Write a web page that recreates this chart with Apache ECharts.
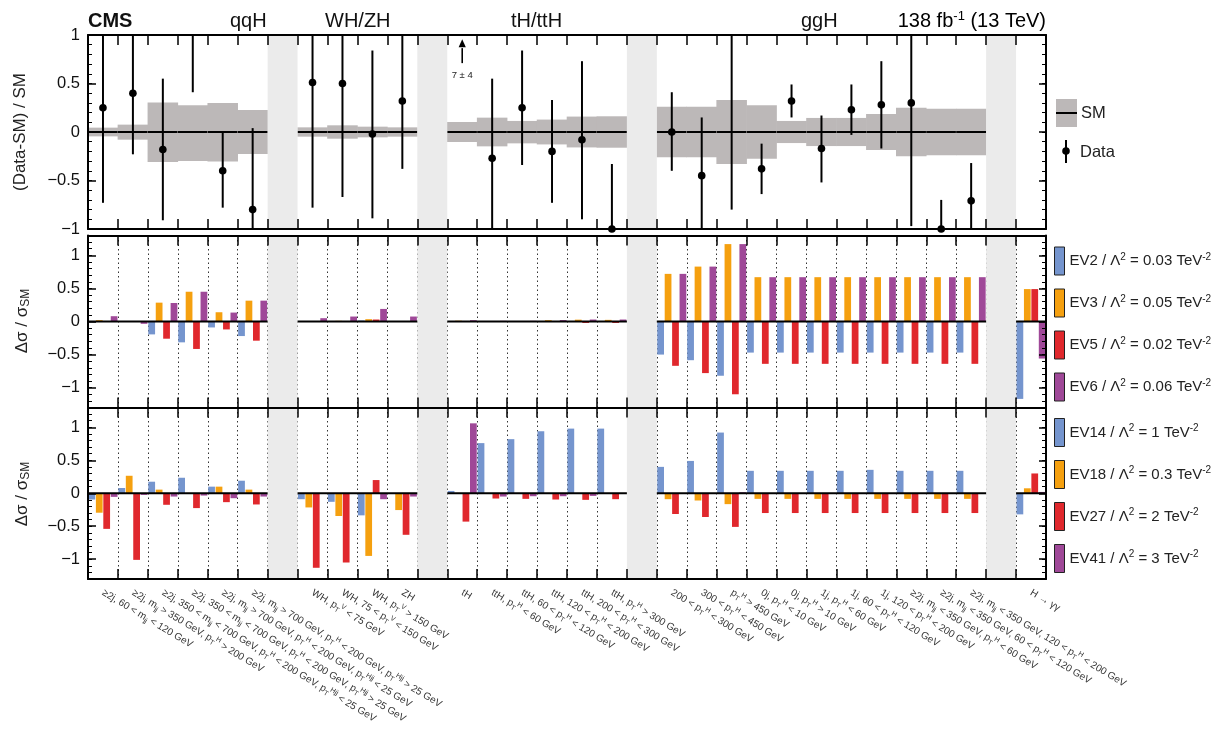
<!DOCTYPE html>
<html>
<head>
<meta charset="utf-8">
<script src="https://cdn.jsdelivr.net/npm/echarts@6/dist/echarts.min.js"></script>
<style>
  html, body { margin: 0; padding: 0; background: #fff; }
  #chart { width: 1224px; height: 737px; }
</style>
</head>
<body>
<div id="chart"></div>
<script>
// ---- Bin labels (markup: _{sub} and ^{sup}); empty strings are spacer columns ----
const categories = [
  '≥2j, 60 < m_{jj} < 120 GeV',
  '≥2j, m_{jj} > 350 GeV, p_{T}^{H} > 200 GeV',
  '≥2j, 350 < m_{jj} < 700 GeV, p_{T}^{H} < 200 GeV, p_{T}^{Hjj} < 25 GeV',
  '≥2j, 350 < m_{jj} < 700 GeV, p_{T}^{H} < 200 GeV, p_{T}^{Hjj} > 25 GeV',
  '≥2j, m_{jj} > 700 GeV, p_{T}^{H} < 200 GeV, p_{T}^{Hjj} < 25 GeV',
  '≥2j, m_{jj} > 700 GeV, p_{T}^{H} < 200 GeV, p_{T}^{Hjj} > 25 GeV',
  '',
  'WH, p_{T}^{V} < 75 GeV',
  'WH, 75 < p_{T}^{V} < 150 GeV',
  'WH, p_{T}^{V} > 150 GeV',
  'ZH',
  '',
  'tH',
  'ttH, p_{T}^{H} < 60 GeV',
  'ttH, 60 < p_{T}^{H} < 120 GeV',
  'ttH, 120 < p_{T}^{H} < 200 GeV',
  'ttH, 200 < p_{T}^{H} < 300 GeV',
  'ttH, p_{T}^{H} > 300 GeV',
  '',
  '200 < p_{T}^{H} < 300 GeV',
  '300 < p_{T}^{H} < 450 GeV',
  'p_{T}^{H} > 450 GeV',
  '0j, p_{T}^{H} < 10 GeV',
  '0j, p_{T}^{H} > 10 GeV',
  '1j, p_{T}^{H} < 60 GeV',
  '1j, 60 < p_{T}^{H} < 120 GeV',
  '1j, 120 < p_{T}^{H} < 200 GeV',
  '≥2j, m_{jj} < 350 GeV, p_{T}^{H} < 60 GeV',
  '≥2j, m_{jj} < 350 GeV, 60 < p_{T}^{H} < 120 GeV',
  '≥2j, m_{jj} < 350 GeV, 120 < p_{T}^{H} < 200 GeV',
  '',
  'H → γγ'
];
const gapIndices = [6, 11, 18, 30];

// ---- Group headings ----
const groupTitles = ['qqH', 'WH/ZH', 'tH/ttH', 'ggH'];

// ---- Upper panel: (Data-SM)/SM, central value and interval ends ----
const dataCentral = [0.25, 0.40, -0.18, 1.30, -0.40, -0.80, null, 0.51, 0.50, -0.02, 0.32, null,
  7, -0.27, 0.25, -0.20, -0.08, -1.00, null,
  0.00, -0.45, 1.20, -0.38, 0.32, -0.17, 0.23, 0.28, 0.30, -1.00, -0.71, null, null];
const dataLow = [-0.73, -0.23, -0.91, 0.41, -0.78, -1.20, null, -0.78, -0.67, -0.89, -0.38, null,
  3, -1.30, -0.34, -0.73, -0.90, -1.60, null,
  -0.40, -1.20, -0.80, -0.64, 0.15, -0.52, -0.03, -0.17, -0.97, -1.50, -1.20, null, null];
const dataHigh = [1.25, 1.20, 0.55, 2.20, 0.00, 0.04, null, 1.30, 1.40, 0.84, 1.10, null,
  11, 0.55, 0.84, 0.33, 0.73, -0.33, null,
  0.41, 0.15, 2.50, -0.12, 0.49, 0.17, 0.49, 0.73, 1.30, -0.70, -0.32, null, null];

// SM prediction uncertainty band (relative)
const smBandLow = [-0.045, -0.079, -0.31, -0.30, -0.303, -0.228, null, -0.048, -0.069, -0.055, -0.048, null,
  -0.103, -0.148, -0.117, -0.128, -0.159, -0.162, null,
  -0.26, -0.26, -0.33, -0.276, -0.114, -0.145, -0.145, -0.185, -0.25, -0.24, -0.24, null, null];
const smBandHigh = [0.045, 0.076, 0.303, 0.276, 0.30, 0.228, null, 0.048, 0.069, 0.055, 0.048, null,
  0.103, 0.148, 0.114, 0.128, 0.159, 0.162, null,
  0.26, 0.26, 0.33, 0.276, 0.114, 0.145, 0.145, 0.185, 0.25, 0.24, 0.24, null, null];

// ---- Middle panel: eigenvector shifts ----
const ev2 = [0, 0, -0.195, -0.315, -0.09, -0.22, null, 0, 0, 0.015, 0, null,
  0, 0, 0, 0, 0, 0, null,
  -0.50, -0.585, -0.82, -0.47, -0.47, -0.47, -0.47, -0.47, -0.47, -0.47, -0.47, null, -1.17];
const ev3 = [0.02, 0, 0.285, 0.45, 0.14, 0.315, null, 0, 0.01, 0.035, 0.005, null,
  0.012, 0.008, 0.008, 0.02, 0.028, 0.025, null,
  0.72, 0.83, 1.17, 0.67, 0.67, 0.67, 0.67, 0.67, 0.67, 0.67, 0.67, null, 0.49];
const ev5 = [0, 0, -0.26, -0.415, -0.12, -0.29, null, 0, 0, 0.03, 0, null,
  0, -0.004, -0.004, -0.008, -0.022, -0.022, null,
  -0.67, -0.78, -1.10, -0.64, -0.64, -0.64, -0.64, -0.64, -0.64, -0.64, -0.64, null, 0.49];
const ev6 = [0.08, -0.035, 0.28, 0.45, 0.135, 0.315, null, 0.05, 0.075, 0.19, 0.075, null,
  0.02, 0.01, 0.01, 0.022, 0.03, 0.03, null,
  0.72, 0.83, 1.17, 0.67, 0.67, 0.67, 0.67, 0.67, 0.67, 0.67, 0.67, null, -0.56];

// ---- Lower panel: eigenvector shifts ----
const ev14 = [-0.095, 0.08, 0.175, 0.235, 0.10, 0.19, null, -0.09, -0.13, -0.335, -0.005, null,
  0.035, 0.76, 0.82, 0.94, 0.98, 0.98, null,
  0.40, 0.49, 0.92, 0.34, 0.34, 0.34, 0.34, 0.355, 0.34, 0.34, 0.34, null, -0.32];
const ev18 = [-0.295, 0.265, 0.055, 0.005, 0.10, 0.055, null, -0.215, -0.345, -0.95, -0.255, null,
  0.005, -0.005, -0.005, -0.005, -0.005, -0.01, null,
  -0.09, -0.11, -0.165, -0.085, -0.085, -0.085, -0.085, -0.085, -0.085, -0.085, -0.085, null, 0.075];
const ev27 = [-0.54, -1.01, -0.175, -0.225, -0.135, -0.17, null, -1.13, -1.05, 0.20, -0.63, null,
  -0.43, -0.08, -0.085, -0.095, -0.10, -0.09, null,
  -0.315, -0.36, -0.51, -0.30, -0.30, -0.30, -0.30, -0.30, -0.30, -0.30, -0.30, null, 0.30];
const ev41 = [-0.055, -0.025, -0.05, -0.035, -0.075, -0.05, null, -0.005, -0.01, -0.09, -0.05, null,
  1.06, -0.05, -0.045, -0.045, -0.04, 0, null,
  0, 0, 0.015, 0, 0, 0, 0, 0, 0, 0, 0, null, 0.02];

// ---- Series names ----
const middleNames = ['EV2 / Λ^{2} = 0.03 TeV^{-2}', 'EV3 / Λ^{2} = 0.05 TeV^{-2}',
  'EV5 / Λ^{2} = 0.02 TeV^{-2}', 'EV6 / Λ^{2} = 0.06 TeV^{-2}'];
const lowerNames = ['EV14 / Λ^{2} = 1 TeV^{-2}', 'EV18 / Λ^{2} = 0.3 TeV^{-2}',
  'EV27 / Λ^{2} = 2 TeV^{-2}', 'EV41 / Λ^{2} = 3 TeV^{-2}'];

// ---- Axis ticks ----
const upperMajorTicks = [-1, -0.5, 0, 0.5, 1];
const lowerMajorTicks = [-1, -0.5, 0, 0.5, 1];

// ---- Styling ----
const FONT = "'Liberation Sans', Arial, Helvetica, sans-serif";
const barColors = ['#7595ce', '#f5a00f', '#e0282d', '#9f4898'];
const bandColor = '#bcb8b8';
const gapColor = '#ebebeb';

function steps(a, b, step) {
  const out = [];
  for (let k = Math.round(a / step); k <= Math.round(b / step); k++) out.push(+(k * step).toFixed(2));
  return out;
}

// Convert _{..}/^{..} markup to ECharts rich text
function toRich(s) {
  if (!s) return '';
  const re = /([_^])\{([^}]*)\}/g;
  let out = '', last = 0, m;
  while ((m = re.exec(s))) {
    if (m.index > last) out += '{n|' + s.slice(last, m.index) + '}';
    out += '{' + (m[1] === '_' ? 'sub' : 'sup') + '|' + m[2] + '}';
    last = re.lastIndex;
  }
  if (last < s.length) out += '{n|' + s.slice(last) + '}';
  return out;
}

const minusFmt = v => (v < 0 ? '\u2212' + Math.abs(v) : String(v));

function yAxesFor(grid, min, max, majors) {
  const minors = steps(min, max, 0.1);
  const base = { gridIndex: grid, type: 'value', min, max, z: 4, splitLine: { show: false } };
  return [
    Object.assign({}, base, {
      position: 'left',
      axisLine: { show: true, lineStyle: { color: '#000', width: 2 } },
      axisTick: { show: true, inside: true, length: 8, customValues: majors, lineStyle: { color: '#000', width: 1.5 } },
      axisLabel: { show: true, customValues: majors, formatter: minusFmt, fontSize: 16.5, fontFamily: FONT, color: '#111', margin: 8 }
    }),
    Object.assign({}, base, {
      position: 'left',
      axisLine: { show: false },
      axisTick: { show: true, inside: true, length: 4, customValues: minors, lineStyle: { color: '#000', width: 1 } },
      axisLabel: { show: false }
    }),
    Object.assign({}, base, {
      position: 'right',
      axisLine: { show: true, lineStyle: { color: '#000', width: 2 } },
      axisTick: { show: true, inside: true, length: 7, customValues: majors, lineStyle: { color: '#000', width: 1.5 } },
      axisLabel: { show: false }
    }),
    Object.assign({}, base, {
      position: 'right',
      axisLine: { show: false },
      axisTick: { show: true, inside: true, length: 4, customValues: minors, lineStyle: { color: '#000', width: 1 } },
      axisLabel: { show: false }
    })
  ];
}

function xAxesFor(grid, showLabels, dotted) {
  const base = { gridIndex: grid, type: 'category', data: categories, boundaryGap: true, splitLine: { show: false } };
  const frameTick = { show: true, inside: true, interval: 0, length: 10, lineStyle: { color: '#000', width: 1.5 } };
  const frameLine = { show: true, onZero: false, lineStyle: { color: '#000', width: 2 } };
  return [
    Object.assign({}, base, {
      position: 'bottom', z: 4, axisLine: frameLine, axisTick: frameTick,
      axisLabel: showLabels ? {
        show: true, interval: 0, rotate: -31, margin: 13,
        formatter: v => toRich(v),
        rich: {
          n: { fontSize: 10, fontFamily: FONT, color: '#333', lineHeight: 13 },
          sub: { fontSize: 7, fontFamily: FONT, color: '#333', lineHeight: 7, verticalAlign: 'bottom' },
          sup: { fontSize: 7, fontFamily: FONT, color: '#333', lineHeight: 7, verticalAlign: 'top' }
        }
      } : { show: false }
    }),
    Object.assign({}, base, {
      position: 'top', z: 4, axisLine: frameLine, axisTick: frameTick, axisLabel: { show: false }
    }),
    Object.assign({}, base, {
      position: 'bottom', z: 0, axisLine: { show: false, onZero: false }, axisTick: { show: false }, axisLabel: { show: false },
      splitLine: { show: dotted, interval: 0, lineStyle: { color: '#333', width: 1, type: [1.5, 3] } }
    })
  ];
}

// Spacer columns between production-mode groups
function gapSeries(xi, yi) {
  return {
    type: 'custom', xAxisIndex: xi, yAxisIndex: yi, z: 3, silent: true,
    data: gapIndices.map(i => [i, 0]),
    encode: { x: 0, y: 1 },
    renderItem(params, api) {
      const cs = params.coordSys;
      const w = api.size([1, 0])[0];
      const cx = api.coord([api.value(0), 0])[0];
      return { type: 'rect', shape: { x: cx - w / 2, y: cs.y, width: w, height: cs.height }, style: { fill: gapColor } };
    }
  };
}

// Horizontal reference line at zero across a panel
function zeroLineSeries(xi, yi) {
  return {
    type: 'custom', xAxisIndex: xi, yAxisIndex: yi, z: 2.5, silent: true,
    data: [[0, 0]], encode: { x: 0, y: 1 },
    renderItem(params, api) {
      const cs = params.coordSys;
      const y = api.coord([0, 0])[1];
      return { type: 'line', shape: { x1: cs.x, y1: y, x2: cs.x + cs.width, y2: y }, style: { stroke: '#000', lineWidth: 2 } };
    }
  };
}

function barSeries(names, arrays, xi, yi, legendIdx) {
  return names.map((name, k) => ({
    type: 'bar', name, xAxisIndex: xi, yAxisIndex: yi, z: 2,
    data: arrays[k],
    barGap: '10%', barCategoryGap: '3%',
    itemStyle: { color: barColors[k] },
    emphasis: { disabled: true }
  }));
}

// SM band with central line
const bandData = [];
smBandLow.forEach((lo, i) => { if (lo !== null) bandData.push([i, lo, smBandHigh[i]]); });
const bandSeries = {
  type: 'custom', name: 'SM', xAxisIndex: 0, yAxisIndex: 0, z: 2, silent: true,
  data: bandData, encode: { x: 0, y: [1, 2] },
  renderItem(params, api) {
    const i = api.value(0), lo = api.value(1), hi = api.value(2);
    const w = api.size([1, 0])[0];
    const x0 = api.coord([i, 0])[0] - w / 2;
    const yHi = api.coord([i, hi])[1], yLo = api.coord([i, lo])[1], y0 = api.coord([i, 0])[1];
    return {
      type: 'group', children: [
        { type: 'rect', shape: { x: x0 - 0.3, y: yHi, width: w + 0.6, height: yLo - yHi }, style: { fill: bandColor } },
        { type: 'line', shape: { x1: x0, y1: y0, x2: x0 + w, y2: y0 }, style: { stroke: '#000', lineWidth: 2 } }
      ]
    };
  }
};

// Measured points with uncertainty bars; off-scale values get an arrow
const Y_MIN = -1, Y_MAX = 1;
const pointData = [];
dataCentral.forEach((v, i) => { if (v !== null) pointData.push([i, v, dataLow[i], dataHigh[i]]); });
const pointSeries = {
  type: 'custom', name: 'Data', xAxisIndex: 0, yAxisIndex: 0, z: 2.6, silent: true,
  data: pointData, encode: { x: 0, y: 1 },
  renderItem(params, api) {
    const i = api.value(0), v = api.value(1), lo = api.value(2), hi = api.value(3);
    const x = api.coord([i, 0])[0];
    const yOf = val => api.coord([i, val])[1];
    const clamp = val => Math.max(Y_MIN, Math.min(Y_MAX, val));
    const children = [];
    if (lo > Y_MAX) {
      const yBase = yOf(0.71), yHead = yOf(0.875), yTip = yOf(0.955);
      children.push({ type: 'line', shape: { x1: x, y1: yBase, x2: x, y2: yHead + 1 }, style: { stroke: '#000', lineWidth: 1.6 } });
      children.push({ type: 'polygon', shape: { points: [[x, yTip], [x - 3.6, yHead], [x + 3.6, yHead]] }, style: { fill: '#000' } });
      children.push({
        type: 'text', x: x, y: yOf(0.585),
        style: { text: v + ' \u00b1 ' + (hi - v), fill: '#222', fontSize: 9.5, fontFamily: FONT,
          align: 'center', verticalAlign: 'middle', textAlign: 'center', textVerticalAlign: 'middle' }
      });
    } else {
      children.push({ type: 'line', shape: { x1: x, y1: yOf(clamp(hi)), x2: x, y2: yOf(clamp(lo)) }, style: { stroke: '#000', lineWidth: 2 } });
      if (v <= Y_MAX && v >= Y_MIN - 0.02) {
        children.push({ type: 'circle', shape: { cx: x, cy: yOf(v), r: 3.8 }, style: { fill: '#000' } });
      }
    }
    return { type: 'group', children };
  }
};

const legendRich = {
  n: { fontSize: 15, fontFamily: FONT, color: '#222', lineHeight: 18 },
  sup: { fontSize: 10, fontFamily: FONT, color: '#222', lineHeight: 10, verticalAlign: 'top' },
  sub: { fontSize: 10, fontFamily: FONT, color: '#222', lineHeight: 10, verticalAlign: 'bottom' }
};
function legendFor(names, top) {
  return {
    data: names, orient: 'vertical', left: 1054, top, icon: 'rect',
    itemWidth: 10, itemHeight: 28, itemGap: 13, padding: 0, selectedMode: false,
    itemStyle: { borderColor: '#222', borderWidth: 1 },
    formatter: name => toRich(name),
    textStyle: { rich: legendRich }
  };
}

function headerText(text, x, align, bold) {
  return {
    type: 'text', x, y: 21, z: 10,
    style: { text, fill: '#111', fontSize: 20, fontFamily: FONT, fontWeight: bold ? 'bold' : 'normal',
      align, verticalAlign: 'middle', textAlign: align, textVerticalAlign: 'middle' }
  };
}
function yTitle(text, x, y) {
  return {
    type: 'text', x, y, rotation: Math.PI / 2, z: 10,
    style: {
      text, fill: '#222', fontSize: 17, fontFamily: FONT, align: 'center', verticalAlign: 'middle',
      textAlign: 'center', textVerticalAlign: 'middle',
      rich: {
        n: { fontSize: 17, fontFamily: FONT, fill: '#222', color: '#222', lineHeight: 20 },
        sub: { fontSize: 12, fontFamily: FONT, fill: '#222', color: '#222', lineHeight: 12, verticalAlign: 'bottom' }
      }
    }
  };
}

const graphics = [
  headerText('CMS', 88, 'left', true),
  headerText(groupTitles[0], 230, 'left', false),
  headerText(groupTitles[1], 325, 'left', false),
  headerText(groupTitles[2], 511, 'left', false),
  headerText(groupTitles[3], 801, 'left', false),
  {
    type: 'text', x: 1046, y: 21, z: 10,
    style: {
      text: '{n|138 fb}{sup|-1}{n| (13 TeV)}', align: 'right', verticalAlign: 'middle',
      textAlign: 'right', textVerticalAlign: 'middle',
      rich: {
        n: { fontSize: 20, fontFamily: FONT, color: '#111', lineHeight: 22 },
        sup: { fontSize: 13, fontFamily: FONT, color: '#111', lineHeight: 13, verticalAlign: 'top' }
      }
    }
  },
  yTitle('{n|(Data-SM) / SM}', 20, 132),
  yTitle('{n|Δσ / σ}{sub|SM}', 22, 321),
  yTitle('{n|Δσ / σ}{sub|SM}', 22, 494),
  // legend of upper panel
  { type: 'rect', shape: { x: 1056, y: 99, width: 21, height: 28 }, style: { fill: bandColor } },
  { type: 'line', shape: { x1: 1056, y1: 113, x2: 1077, y2: 113 }, style: { stroke: '#000', lineWidth: 2 } },
  { type: 'text', x: 1081, y: 113, style: { text: 'SM', fill: '#222', fontSize: 16.5, fontFamily: FONT, align: 'left', verticalAlign: 'middle', textAlign: 'left', textVerticalAlign: 'middle' } },
  { type: 'line', shape: { x1: 1066, y1: 140, x2: 1066, y2: 163 }, style: { stroke: '#000', lineWidth: 2 } },
  { type: 'circle', shape: { cx: 1066, cy: 151, r: 3.8 }, style: { fill: '#000' } },
  { type: 'text', x: 1080, y: 152, style: { text: 'Data', fill: '#222', fontSize: 16.5, fontFamily: FONT, align: 'left', verticalAlign: 'middle', textAlign: 'left', textVerticalAlign: 'middle' } }
];

const option = {
  animation: false,
  backgroundColor: '#fff',
  textStyle: { fontFamily: FONT },
  grid: [
    { left: 88, top: 35, width: 958, height: 194 },
    { left: 88, top: 235.5, width: 958, height: 172 },
    { left: 88, top: 407.5, width: 958, height: 171.5 }
  ],
  xAxis: [].concat(xAxesFor(0, false, false), xAxesFor(1, false, true), xAxesFor(2, true, true)),
  yAxis: [].concat(yAxesFor(0, -1, 1, upperMajorTicks), yAxesFor(1, -1.3, 1.3, lowerMajorTicks), yAxesFor(2, -1.3, 1.3, lowerMajorTicks)),
  legend: [legendFor(middleNames, 246.5), legendFor(lowerNames, 418)],
  graphic: graphics,
  series: [].concat(
    [bandSeries, pointSeries, gapSeries(0, 0)],
    barSeries(middleNames, [ev2, ev3, ev5, ev6], 3, 4),
    [zeroLineSeries(3, 4), gapSeries(3, 4)],
    barSeries(lowerNames, [ev14, ev18, ev27, ev41], 6, 8),
    [zeroLineSeries(6, 8), gapSeries(6, 8)]
  )
};

const chart = echarts.init(document.getElementById('chart'), null, { renderer: 'canvas' });
chart.setOption(option);
</script>
</body>
</html>
